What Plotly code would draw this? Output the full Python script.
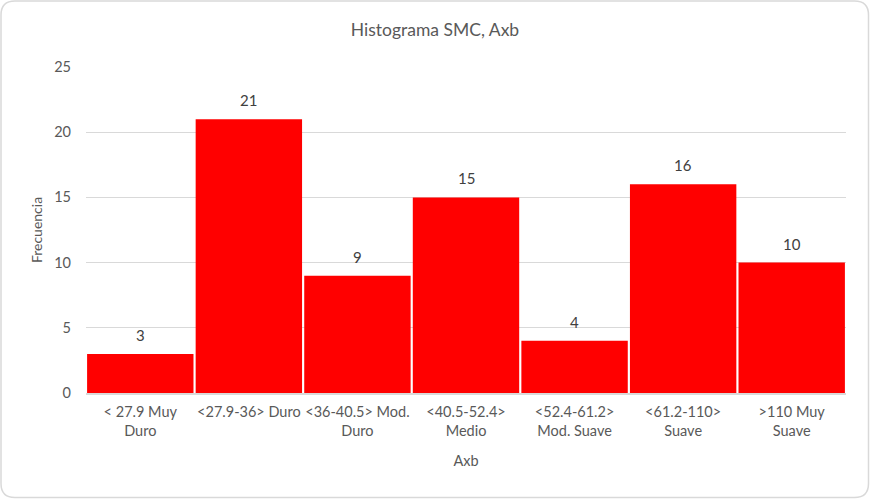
import plotly.graph_objects as go

categories = ["&lt; 27.9 Muy<br>Duro", "&lt;27.9-36&gt; Duro", "&lt;36-40.5&gt; Mod.<br>Duro",
              "&lt;40.5-52.4&gt;<br>Medio", "&lt;52.4-61.2&gt;<br>Mod. Suave",
              "&lt;61.2-110&gt;<br>Suave", "&gt;110 Muy<br>Suave"]
frecuencia = [3, 21, 9, 15, 4, 16, 10]
y_ticks = [0, 5, 10, 15, 20, 25]

W, H = 870, 499
L, R, T, B = 86, 24, 67, 106
pw, ph = W - L - R, H - T - B

FONT = "Lato"
GREY = "#595959"
fig = go.Figure(go.Bar(
    x=categories, y=frecuencia,
    marker=dict(color="#ff0000", line=dict(width=0)),
    cliponaxis=False,
))

for c, v in zip(categories, frecuencia):
    fig.add_annotation(x=c, y=v, text=str(v), showarrow=False, yanchor="middle",
                       yshift=19, font=dict(color="#404040", size=15, family=FONT))

def px(x):
    return (x - L) / pw

def py(y):
    return 1 - (y - T) / ph

# rounded border
x0, x1, y0, y1, r = 1, W - 1.5, 1, H - 1.5, 14
path = (f"M {px(x0 + r)},{py(y0)} L {px(x1 - r)},{py(y0)} "
        f"Q {px(x1)},{py(y0)} {px(x1)},{py(y0 + r)} L {px(x1)},{py(y1 - r)} "
        f"Q {px(x1)},{py(y1)} {px(x1 - r)},{py(y1)} L {px(x0 + r)},{py(y1)} "
        f"Q {px(x0)},{py(y1)} {px(x0)},{py(y1 - r)} L {px(x0)},{py(y0 + r)} "
        f"Q {px(x0)},{py(y0)} {px(x0 + r)},{py(y0)} Z")

fig.update_layout(
    width=W, height=H,
    margin=dict(l=L, r=R, t=T, b=B),
    paper_bgcolor="white", plot_bgcolor="white",
    bargap=0.02,
    showlegend=False,
    font=dict(family=FONT, color=GREY, size=14),
    title=dict(text="Histograma SMC, Axb", x=0.5, xref="container", xanchor="center",
               y=1 - 30 / H, yref="container", yanchor="middle",
               font=dict(size=17.5, color=GREY, family=FONT)),
    xaxis=dict(showgrid=False, showline=True, linecolor="#d9d9d9", linewidth=1.5,
               ticks="", tickfont=dict(size=14.5, color=GREY), ticklabelstandoff=5,
               title=dict(text="Axb", font=dict(size=14.5, color=GREY), standoff=18)),
    yaxis=dict(range=[0, 25], tickvals=y_ticks, showgrid=True, gridcolor="#d9d9d9",
               gridwidth=1, zeroline=False, showline=False, ticks="",
               ticklabelstandoff=14, tickfont=dict(size=14.5, color=GREY),
               title=dict(text="Frecuencia", font=dict(size=14, color=GREY), standoff=8)),
    shapes=[dict(type="path", path=path, xref="paper", yref="paper",
                 line=dict(color="#d9d9d9", width=1.5), fillcolor="rgba(0,0,0,0)",
                 layer="above")],
)

fig.write_html("out.html")
